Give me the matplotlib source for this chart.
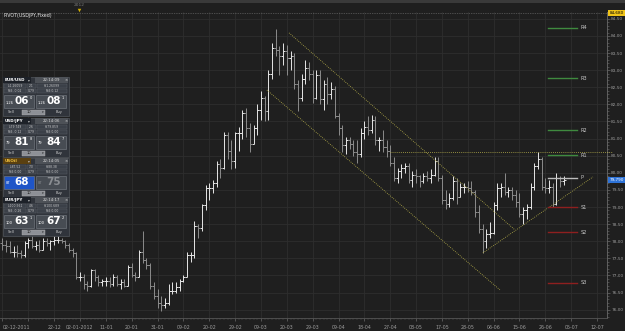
import matplotlib
matplotlib.use('Agg')
import matplotlib.pyplot as plt
from matplotlib.collections import LineCollection
from matplotlib.patches import Rectangle
import numpy as np

W, H = 625, 331

# ---------------- data (USD/JPY daily, bar index 1 = 02-12-2011, weekdays) ----------------
bar_index = list(range(1, 154))
opens = [77.95,77.90,77.85,77.70,77.70,77.65,77.60,77.95,78.05,77.85,
         77.90,77.75,78.00,77.95,78.00,78.05,78.05,78.00,77.90,77.75,
         77.65,76.95,76.95,76.75,76.70,77.15,76.95,76.80,76.85,76.85,
         76.75,76.95,76.75,76.80,76.70,77.25,77.00,76.95,77.70,77.45,
         77.30,76.70,76.40,76.20,76.15,76.20,76.55,76.55,76.65,76.85,
         76.95,77.60,77.60,78.45,78.40,79.05,79.55,79.55,79.70,80.25,
         80.15,81.10,80.65,80.35,81.15,81.15,81.75,81.30,80.85,81.30,
         81.85,82.20,81.80,82.90,83.65,83.60,83.40,83.55,83.35,83.40,
         82.60,82.20,82.75,83.05,82.90,82.20,82.85,82.15,82.60,82.30,
         82.45,81.65,81.30,80.80,80.95,80.85,80.60,80.55,81.15,81.35,
         81.25,81.55,80.95,80.95,80.75,80.65,80.30,79.85,80.05,80.15,
         80.20,79.80,79.95,79.90,79.75,79.90,79.85,79.95,80.35,79.85,
         79.20,79.10,79.25,79.75,79.30,79.60,79.60,79.55,79.45,78.85,
         78.35,78.00,78.20,78.25,79.05,79.55,79.60,79.45,79.50,79.35,
         79.15,78.80,78.90,79.00,79.60,80.20,80.40,79.60,79.55,79.60,
         79.10,79.85,79.75]
highs = [78.10,78.05,78.00,77.85,77.90,77.75,78.00,78.10,78.15,78.00,
         78.05,78.10,78.10,78.05,78.15,78.15,78.10,78.05,77.95,77.80,
         77.70,77.10,77.05,76.85,77.20,77.20,77.00,76.90,76.95,76.95,
         77.05,77.00,76.90,76.90,77.30,77.35,77.10,77.75,78.30,77.50,
         77.35,76.80,76.60,76.40,76.35,76.75,76.80,76.80,76.90,77.00,
         77.70,77.70,78.60,78.50,79.10,79.65,79.70,79.80,80.35,80.40,
         81.20,81.20,80.95,81.20,81.35,81.85,81.90,81.45,81.40,82.00,
         82.40,82.25,83.00,83.80,84.20,83.70,83.80,83.75,83.55,83.50,
         82.70,82.90,83.30,83.25,83.00,83.00,83.00,82.70,82.80,82.65,
         82.55,81.75,81.40,81.05,81.05,80.95,80.95,81.30,81.50,81.65,
         81.70,81.65,81.05,81.25,80.95,80.80,80.45,80.15,80.25,80.30,
         80.30,80.05,80.10,79.95,80.00,80.05,80.10,80.45,80.45,79.95,
         79.50,79.40,79.90,79.85,79.70,79.70,79.75,79.75,79.50,79.05,
         78.50,78.35,78.55,79.15,79.70,79.70,80.00,79.60,79.60,79.50,
         79.40,79.00,79.10,79.70,80.30,80.60,80.45,79.85,79.80,79.70,
         80.00,79.90,79.90]
lows = [77.75,77.70,77.65,77.55,77.55,77.50,77.55,77.80,77.80,77.75,
        77.70,77.75,77.85,77.75,77.90,77.95,77.95,77.80,77.70,77.55,
        76.90,76.85,76.60,76.55,76.65,76.85,76.70,76.70,76.70,76.65,
        76.70,76.70,76.60,76.65,76.70,76.95,76.85,76.95,77.35,77.20,
        76.60,76.30,76.05,75.95,76.05,76.15,76.45,76.50,76.55,76.80,
        76.95,77.40,77.50,78.10,78.30,78.90,79.20,79.40,79.60,79.85,
        80.10,80.40,80.10,80.15,80.65,81.00,81.05,80.60,80.85,81.10,
        81.55,81.50,81.55,82.75,83.40,82.85,83.15,82.85,83.00,82.45,
        81.80,82.10,82.60,82.70,82.05,82.15,82.00,81.85,82.00,82.15,
        81.60,81.10,80.60,80.55,80.70,80.50,80.30,80.45,81.00,81.10,
        81.15,80.80,80.65,80.60,80.45,80.20,79.75,79.70,79.85,80.00,
        79.70,79.60,79.70,79.60,79.70,79.75,79.70,79.90,79.75,79.10,
        78.95,79.00,79.20,79.10,79.30,79.40,79.45,79.35,78.70,78.25,
        77.65,77.80,78.10,78.20,78.90,79.30,79.35,79.30,79.20,79.00,
        78.70,78.50,78.65,78.95,79.50,80.10,79.50,79.40,79.40,79.00,
        79.05,79.60,79.65]
closes = [77.90,77.85,77.70,77.70,77.65,77.60,77.95,78.05,77.85,77.90,
          77.75,78.00,77.95,78.00,78.05,78.05,78.00,77.90,77.75,77.65,
          76.95,76.95,76.75,76.70,77.15,76.95,76.80,76.85,76.85,76.75,
          76.95,76.75,76.80,76.70,77.25,77.00,76.95,77.70,77.45,77.30,
          76.70,76.40,76.20,76.15,76.20,76.55,76.55,76.65,76.85,76.95,
          77.60,77.60,78.45,78.40,79.05,79.55,79.55,79.70,80.25,80.15,
          81.10,80.65,80.35,81.15,81.15,81.75,81.30,80.85,81.30,81.85,
          82.20,81.80,82.90,83.65,83.60,83.40,83.55,83.35,83.40,82.60,
          82.20,82.75,83.05,82.90,82.20,82.85,82.15,82.60,82.30,82.45,
          81.65,81.30,80.80,80.95,80.85,80.60,80.55,81.15,81.35,81.25,
          81.55,80.95,80.95,80.75,80.65,80.30,79.85,80.05,80.15,80.20,
          79.80,79.95,79.90,79.75,79.90,79.85,79.95,80.35,79.85,79.20,
          79.10,79.25,79.75,79.30,79.60,79.60,79.55,79.45,78.85,78.35,
          78.00,78.20,78.25,79.05,79.55,79.60,79.45,79.50,79.35,79.15,
          78.80,78.90,79.00,79.60,80.20,80.40,79.60,79.55,79.60,79.10,
          79.85,79.75,79.80]

date_tick_pos = list(range(1, 163, 7))
date_tick_labels = ['02-12-2011', '', '22-12', '02-01-2012', '11-01', '20-01', '31-01',
                    '09-02', '20-02', '29-02', '09-03', '20-03', '29-03', '09-04',
                    '18-04', '27-04', '08-05', '17-05', '28-05', '06-06', '15-06',
                    '26-06', '05-07', '12-07']
price_ticks = [76.0, 76.5, 77.0, 77.5, 78.0, 78.5, 79.0, 79.5, 80.0,
               80.5, 81.0, 81.5, 82.0, 82.5, 83.0, 83.5, 84.0, 84.5]

pivot_names = ['R4', 'R3', 'R2', 'R1', 'P', 'S1', 'S2', 'S3']
pivot_levels = [84.24, 82.77, 81.25, 80.52, 79.85, 79.00, 78.27, 76.78]
pivot_start, pivot_end = 148.7, 156.6

# trend lines (anchor bar, anchor price)
chan_upper_x = [78.6, 139.8]; chan_upper_y = [84.09, 78.33]
chan_lower_x = [72.6, 135.7]; chan_lower_y = [82.42, 76.58]
rise_x = [131.1, 160.9]; rise_y = [77.66, 79.88]
hline_x = [105.9, 166.0]; hline_y = [80.61, 80.61]
top_level = 84.68
last_price = 79.79

# ---------------- style ----------------
BG = '#1f1f1f'
GRID = '#2e2e2e'
TXT = '#9c9c9c'

fig = plt.figure(figsize=(W / 100, H / 100), dpi=100)
fig.patch.set_facecolor(BG)
ax = fig.add_axes([0, 13 / H, 607 / W, 306 / H])
ax.set_facecolor(BG)
ax.set_xlim(0.34, 164.7)
ax.set_ylim(75.757, 84.70)

# grid
for p in price_ticks:
    ax.axhline(p, color=GRID, lw=0.6, zorder=0)
for d in date_tick_pos:
    ax.axvline(d, color=GRID, lw=0.6, zorder=0)

# OHLC bars
up_segs, dn_segs = [], []
hw = 0.55
for i, o, h, l, c in zip(bar_index, opens, highs, lows, closes):
    segs = [((i, l), (i, h)), ((i - hw, o), (i, o)), ((i, c), (i + hw, c))]
    (up_segs if c >= o else dn_segs).extend(segs)
ax.add_collection(LineCollection(up_segs, colors='#e6e6e6', linewidths=0.7, zorder=3))
ax.add_collection(LineCollection(dn_segs, colors='#8c8c8c', linewidths=0.7, zorder=3))

# trend lines
dot = dict(color='#b8b04a', lw=0.6, ls=(0, (1, 1.5)), zorder=4)
ax.plot(chan_upper_x, chan_upper_y, **dot)
ax.plot(chan_lower_x, chan_lower_y, **dot)
ax.plot(rise_x, rise_y, **dot)
ax.plot(hline_x, hline_y, clip_on=False, **dot)
ax.axhline(top_level, color='#7a7a7a', lw=0.5, ls=(0, (1, 1.5)), zorder=2)

# pivots
for name, lvl in zip(pivot_names, pivot_levels):
    col = '#3f8a3f' if name.startswith('R') else ('#8e1f1f' if name.startswith('S') else '#bdbdbd')
    ax.plot([pivot_start, pivot_end], [lvl, lvl], color=col, lw=1.0, zorder=4)
    ax.text(pivot_end + 0.9, lvl, name, color='#c8c8c8', fontsize=3.6, va='center', ha='left', zorder=5)

# axes styling
for s in ['top', 'left']:
    ax.spines[s].set_visible(False)
ax.spines['right'].set_color('#6a6a6a')
ax.spines['right'].set_linewidth(0.6)
ax.spines['bottom'].set_color('#555555')
ax.spines['bottom'].set_linewidth(0.6)
ax.yaxis.tick_right()
ax.set_yticks(price_ticks)
ax.set_yticklabels([f'{p:.2f}'.replace('.', ',') for p in price_ticks])
ax.set_yticks(np.arange(75.8, 84.71, 0.1), minor=True)
ax.tick_params(axis='y', which='major', length=2.0, width=0.5, colors='#6a6a6a',
               labelcolor=TXT, labelsize=3.1, pad=1.0)
ax.tick_params(axis='y', which='minor', length=1.2, width=0.4, colors='#6a6a6a')
ax.set_xticks(date_tick_pos)
ax.set_xticklabels(date_tick_labels)
ax.set_xticks(bar_index, minor=True)
ax.tick_params(axis='x', which='major', length=2.5, width=0.5, colors='#6a6a6a',
               labelcolor=TXT, labelsize=3.4, pad=2.5)
ax.tick_params(axis='x', which='minor', length=1.2, width=0.3, colors='#555555')
ax.get_xticklabels()[0].set_ha('left')

# ---------------- overlay (pixel coordinates) ----------------
ov = fig.add_axes([0, 0, 1, 1], zorder=10)
ov.set_xlim(0, W)
ov.set_ylim(H, 0)
ov.axis('off')
ov.patch.set_alpha(0)


def rect(x, y, w, h, fc, ec='none', lw=0.4, z=1):
    ov.add_patch(Rectangle((x, y), w, h, fc=fc, ec=ec, lw=lw, zorder=z))


def txt(x, y, s, size=3, color='#dddddd', ha='left', weight='normal', z=3):
    ov.text(x, y, s, fontsize=size, color=color, ha=ha, va='center', fontweight=weight, zorder=z)


# top strip
rect(0, 0, W, 3, '#3a3a3a')
txt(79, 5.5, '2012', 3.2, '#7a7a7a', 'center')
ov.plot([79], [10], marker='v', ms=2.5, color='#d4b000', mec='none', zorder=3)
txt(3, 16, 'PIVOT(USDJPY,Fixed)', 3.4, '#e8e8e8')

# price boxes on right axis
rect(608, 9.8, 17, 6.5, '#f0c419', z=2)
txt(616.5, 13.2, '84,680', 3.0, '#000000', 'center')
rect(608, 176.5, 17, 6.8, '#2e73d8', z=2)
txt(616.5, 180, '79,790', 3.0, '#ffffff', 'center')

# trading widgets
panels = [
    dict(y0=77, pair='EUR/USD', t='22:14:09', stats=[('L:1.26059', '2.1', 'H:1.26099'), ('Roll:-0.02', '0.79', 'Roll:0.12')],
         L=('1.26', '06', '0'), R=('1.26', '08', '1'), hl=False, pbg='#1d2128', pc='#ffffff'),
    dict(y0=118, pair='USD/JPY', t='22:14:06', stats=[('L:79.749', '2.6', 'H:79.859'), ('Roll:-0.12', '0.79', 'Roll:0.00')],
         L=('79', '81', '8'), R=('79', '84', '7'), hl=False, pbg='#1d2128', pc='#ffffff'),
    dict(y0=158, pair='USOil', t='22:14:05', stats=[('L:87.52', '7.0', 'H:88.38'), ('Roll:0.00', '0.79', 'Roll:0.00')],
         L=('87', '68', ''), R=('87', '75', ''), hl=True, pbg='#5a4010', pc='#f0c040'),
    dict(y0=197, pair='EUR/JPY', t='22:14:17', stats=[('L:100.561', '4.6', 'H:100.689'), ('Roll:-0.26', '0.79', 'Roll:0.00')],
         L=('100', '63', '1'), R=('100', '67', '2'), hl=False, pbg='#1d2128', pc='#ffffff'),
]
for p in panels:
    y0 = p['y0']
    rect(2.5, y0, 66, 39, '#30343b', '#5c6168', 0.4)
    rect(3, y0 + 0.3, 28, 5.6, p['pbg'])
    txt(5, y0 + 3.1, p['pair'], 3.0, p['pc'], weight='bold')
    txt(29, y0 + 3.1, '▾', 2.6, '#bbbbbb', 'center')
    rect(35, y0 + 0.3, 33, 5.6, '#4d5157')
    txt(51, y0 + 3.1, p['t'], 2.8, '#dddddd', 'center')
    txt(66, y0 + 3.1, '×', 2.8, '#dddddd', 'center')
    for r, row in enumerate(p['stats']):
        yy = y0 + 7 + r * 4.6
        for (cx, cw), s in zip([(4, 22), (27, 9), (37, 30)], row):
            rect(cx, yy, cw, 3.9, '#3b4048', '#5c6168', 0.3)
            txt(cx + cw / 2, yy + 2, s, 2.2, '#c8c8c8', 'center')
    for k, (bx, val) in enumerate([(4, p['L']), (36, p['R'])]):
        blue = p['hl'] and k == 0
        fc = '#1f55c8' if blue else '#474c53'
        rect(bx, y0 + 17.5, 30, 13, fc, '#7a7f86', 0.4)
        dim = p['hl'] and k == 1
        col = '#8a8d92' if dim else '#ffffff'
        txt(bx + 2, y0 + 25.5, val[0], 2.6, col)
        txt(bx + 10.5, y0 + 24, val[1], 7.5, col, weight='bold')
        if val[2]:
            txt(bx + 26, y0 + 21, val[2], 2.6, col)
    yy = y0 + 32.5
    txt(8, yy + 2.8, 'Sell', 2.6, '#cfcfcf')
    rect(22, yy + 0.4, 23, 5, '#8d9096', '#b0b0b0', 0.3)
    txt(27, yy + 2.9, '10', 2.6, '#202020')
    txt(42.5, yy + 2.9, '▾', 2.4, '#202020', 'center')
    txt(56, yy + 2.8, 'Buy', 2.6, '#cfcfcf')

fig.savefig('out.png', dpi=100, facecolor=BG)
